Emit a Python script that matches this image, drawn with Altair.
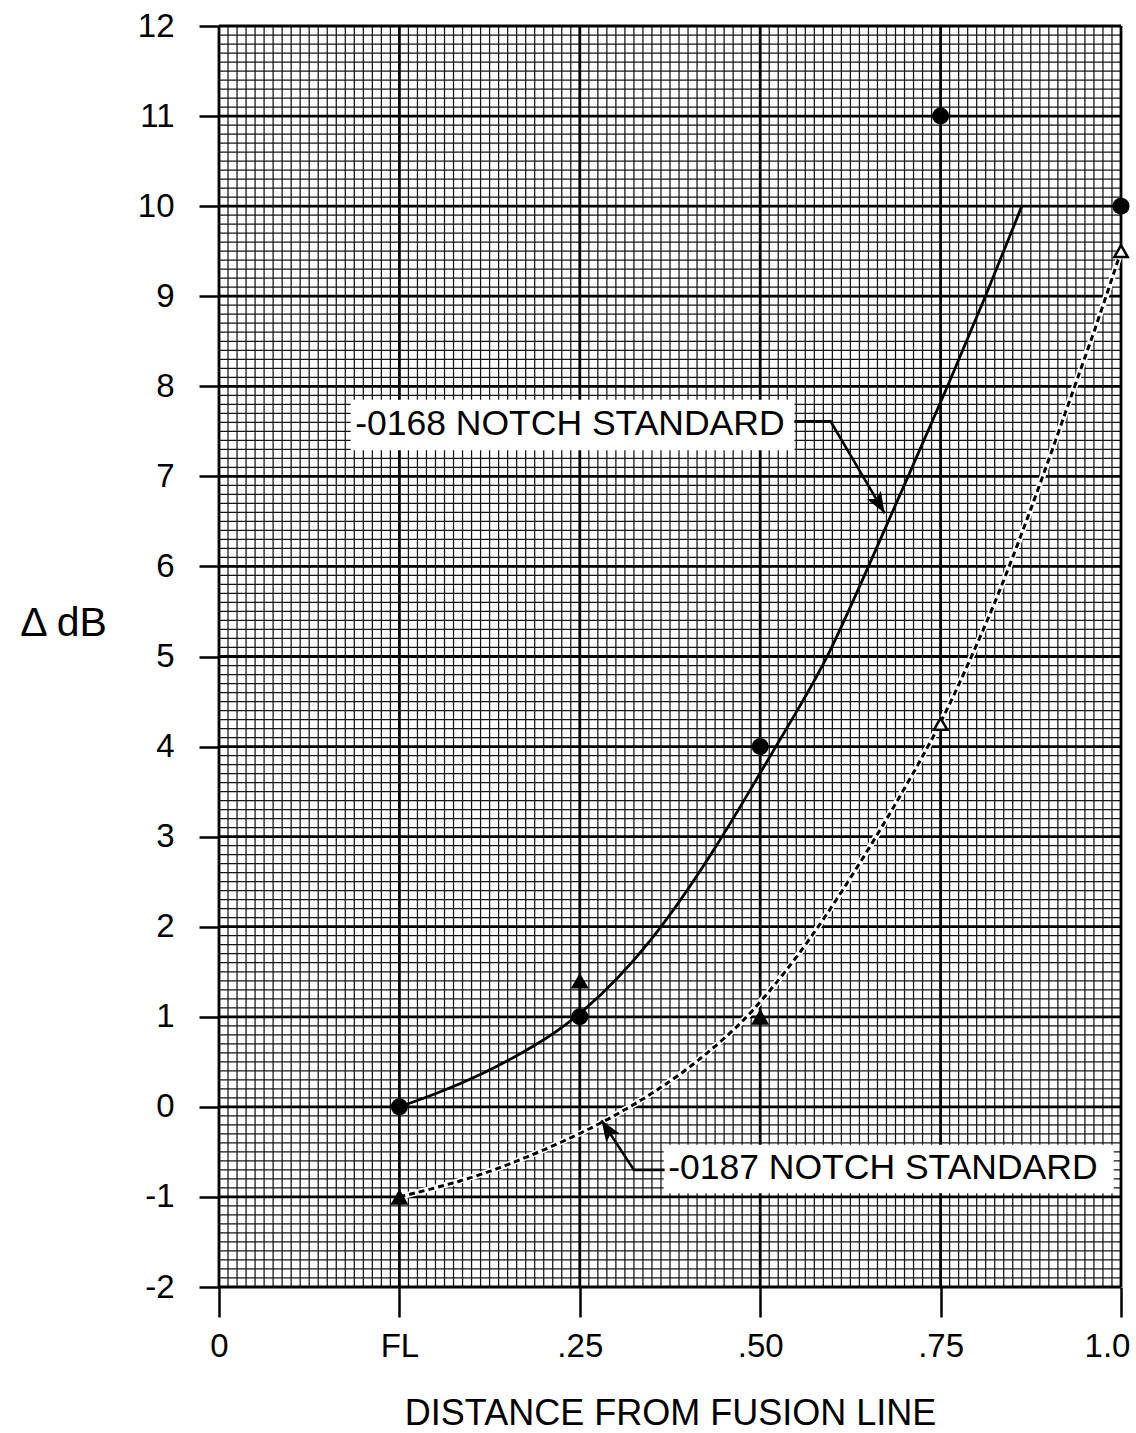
import json
import math
import numpy as np
import pandas as pd
import altair as alt

# ---------------- data ----------------
x_tick_values = [0, 1, 2, 3, 4, 5]
x_tick_labels = ["0", "FL", ".25", ".50", ".75", "1.0"]
y_tick_values = list(range(-2, 13))

# -0168 notch standard: measured points (filled circles)
circ_x = [1, 2, 3, 4, 5]
circ_y = [0.0, 1.0, 4.0, 11.0, 10.0]

# -0187 notch standard: filled triangles and open triangles
tri_x = [1, 2, 3]
tri_y = [-1.0, 1.4, 1.0]
otri_x = [4, 5]
otri_y = [4.25, 9.5]

# hand-drawn fitted curves
solid_x = [1.0, 1.2, 1.46, 1.74, 2.0, 2.39, 2.78, 3.0, 3.2, 3.38, 3.6, 3.82, 4.04, 4.25, 4.45]
solid_y = [0.0, 0.14, 0.36, 0.66, 1.0, 1.78, 2.95, 3.71, 4.38, 5.0, 6.0, 7.0, 8.0, 9.0, 10.0]
dash_x = [1.0, 1.3, 1.58, 2.02, 2.31, 2.57, 2.83, 3.0, 3.28, 3.6, 3.82, 4.0, 4.15, 4.33, 4.55, 4.75, 4.87, 5.0]
dash_y = [-1.0, -0.85, -0.67, -0.29, 0.03, 0.37, 0.8, 1.15, 1.85, 2.85, 3.6, 4.25, 4.9, 5.72, 6.9, 8.04, 8.71, 9.5]

# annotations
ann_text = ["-0168 NOTCH STANDARD", "-0187 NOTCH STANDARD"]
ann_x = [0.755, 2.49]
ann_y = [7.58, -0.68]
box_x1 = [0.73, 2.465]
box_x2 = [3.19, 4.96]
box_y1 = [7.85, -0.42]
box_y2 = [7.29, -0.96]
arrow_id = [0, 0, 0, 1, 1, 1]
arrow_ord = [0, 1, 2, 0, 1, 2]
arrow_x = [3.19, 3.39, 3.69, 2.47, 2.30, 2.12]
arrow_y = [7.61, 7.61, 6.59, -0.70, -0.70, -0.15]

# ---------------- layout ----------------
W, H = 902, 1261
X_DOM, Y_DOM = [0, 5], [-2, 12]
PX_X = W / (X_DOM[1] - X_DOM[0])
PX_Y = H / (Y_DOM[1] - Y_DOM[0])
FONT = "Liberation Sans"

xs = alt.Scale(domain=X_DOM, nice=False, zero=False)
ys = alt.Scale(domain=Y_DOM, nice=False, zero=False)

label_expr = json.dumps(x_tick_labels) + "[datum.value]"
x_axis = alt.Axis(values=x_tick_values, labelExpr=label_expr, grid=False, domain=False,
                  tickSize=30, tickWidth=2.5, tickColor="black", labelFlush=False,
                  labelOffset={"condition": {"test": "datum.value == %d" % X_DOM[1], "value": -14},
                               "value": 0},
                  labelFont=FONT, labelFontSize=33, labelColor="black", labelPadding=13,
                  title="DISTANCE FROM FUSION LINE", titleFont=FONT, titleFontSize=36,
                  titleFontWeight="normal", titleColor="black", titleY=137,
                  titleBaseline="alphabetic")
y_axis = alt.Axis(values=y_tick_values, grid=False, domain=False,
                  labelExpr="datum.value < 0 ? '-' + abs(datum.value) : '' + datum.value",
                  tickSize=20, tickWidth=2.5, tickColor="black", labelFlush=False,
                  labelFont=FONT, labelFontSize=33, labelColor="black", labelPadding=25,
                  title="\u0394 dB", titleFont=FONT, titleFontSize=41, titleFontWeight="normal",
                  titleColor="black", titleAngle=0, titleAlign="center",
                  titleBaseline="alphabetic", titleX=-156, titleY=609)

X = lambda f="x": alt.X(f + ":Q", scale=xs, axis=x_axis)
Y = lambda f="y": alt.Y(f + ":Q", scale=ys, axis=y_axis)

# grid (graph paper): minor every 0.05 in x, 0.1 in y, major at each tick
gx_minor = pd.DataFrame({"x": np.round(np.arange(X_DOM[0], X_DOM[1] + 1e-9, 0.05), 4)})
gy_minor = pd.DataFrame({"y": np.round(np.arange(Y_DOM[0], Y_DOM[1] + 1e-9, 0.1), 4)})
gx_major = pd.DataFrame({"x": x_tick_values})
gy_major = pd.DataFrame({"y": y_tick_values})

minor_style = dict(color="#141414", strokeWidth=1.25)
major_style = dict(color="black", strokeWidth=2.8)

layers = [
    alt.Chart(gx_minor).mark_rule(**minor_style).encode(x=X()),
    alt.Chart(gy_minor).mark_rule(**minor_style).encode(y=Y()),
    alt.Chart(gx_major).mark_rule(**major_style).encode(x=X()),
    alt.Chart(gy_major).mark_rule(**major_style).encode(y=Y()),
]

solid_df = pd.DataFrame({"x": solid_x, "y": solid_y})
dash_df = pd.DataFrame({"x": dash_x, "y": dash_y})
layers += [
    alt.Chart(dash_df).mark_line(color="white", strokeWidth=6, interpolate="basis").encode(x=X(), y=Y()),
    alt.Chart(dash_df).mark_line(color="black", strokeWidth=3, strokeDash=[6, 4],
                                 interpolate="basis").encode(x=X(), y=Y()),
    alt.Chart(solid_df).mark_line(color="black", strokeWidth=2.8, interpolate="basis").encode(x=X(), y=Y()),
]

# annotation boxes, texts, arrows
box_df = pd.DataFrame({"x": box_x1, "x2": box_x2, "y": box_y1, "y2": box_y2})
txt_df = pd.DataFrame({"x": ann_x, "y": ann_y, "t": ann_text})
arr_df = pd.DataFrame({"x": arrow_x, "y": arrow_y, "id": arrow_id, "o": arrow_ord})

# arrowheads at the last point of each arrow, oriented along the last segment
heads = []
for a in sorted(set(arrow_id)):
    pts = [(xx, yy) for xx, yy, i in zip(arrow_x, arrow_y, arrow_id) if i == a]
    (x0, y0), (x1, y1) = pts[-2], pts[-1]
    dx = (x1 - x0) * PX_X
    dy = -(y1 - y0) * PX_Y
    ang = math.degrees(math.atan2(dx, -dy)) % 360
    heads.append({"x": x1, "y": y1, "ang": ang})
head_df = pd.DataFrame(heads)

layers += [
    alt.Chart(box_df).mark_rect(color="white").encode(x=X(), x2="x2:Q", y=Y(), y2="y2:Q"),
    alt.Chart(txt_df).mark_text(align="left", baseline="middle", font=FONT, fontSize=35.5,
                                color="black").encode(x=X(), y=Y(), text="t:N"),
    alt.Chart(arr_df).mark_line(color="black", strokeWidth=2.6).encode(
        x=X(), y=Y(), detail="id:N", order="o:Q"),
    alt.Chart(head_df).mark_point(shape="M0,0L-0.42,1.1L0,0.85L0.42,1.1Z", filled=True,
                                  color="black", opacity=1, size=1500).encode(
        x=X(), y=Y(), angle=alt.Angle("ang:Q", scale=None)),
]

# markers
circ_df = pd.DataFrame({"x": circ_x, "y": circ_y})
tri_df = pd.DataFrame({"x": tri_x, "y": tri_y})
otri_df = pd.DataFrame({"x": otri_x, "y": otri_y})
layers += [
    alt.Chart(circ_df).mark_point(shape="circle", filled=True, color="black", opacity=1,
                                  size=290).encode(x=X(), y=Y()),
    alt.Chart(tri_df).mark_point(shape="triangle-up", filled=True, color="black", opacity=1,
                                 size=330).encode(x=X(), y=Y()),
    alt.Chart(otri_df).mark_point(shape="triangle-up", filled=True, fill="white",
                                  stroke="black", strokeWidth=2.5, opacity=1,
                                  size=180).encode(x=X(), y=Y()),
]

chart = alt.layer(*layers).properties(
    width=W, height=H,
    autosize=alt.AutoSizeParams(type="none"),
    padding={"left": 219, "top": 26, "right": 15, "bottom": 146},
    background="white",
).configure_view(strokeWidth=0)

chart.save("out.html", embed_options={"renderer": "svg", "actions": False})
